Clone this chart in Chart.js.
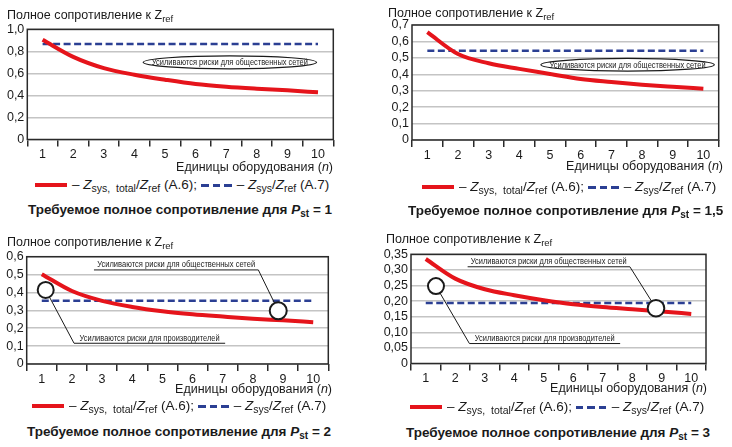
<!DOCTYPE html>
<html>
<head>
<meta charset="utf-8">
<script src="https://cdn.jsdelivr.net/npm/chart.js@4.4.1/dist/chart.umd.min.js"></script>
<style>
  body { margin: 0; background: #fff; }
  #wrap { position: relative; width: 732px; height: 447px; overflow: hidden; font-family: "Liberation Sans", Arial, sans-serif; color: #1a1a1a; }
  canvas { position: absolute; }
  .t { position: absolute; white-space: nowrap; font-size: 12.5px; line-height: 14px; }
  .t sub { font-size: 9.5px; vertical-align: -3px; line-height: 0; }
  .leg { font-size: 13.5px; }
  .leg sub { font-size: 10.5px; }
  .title { font-weight: bold; font-size: 13.5px; }
  .title sub { font-size: 10px; }
  .red { display: inline-block; width: 32px; height: 4px; background: #e5141b; vertical-align: middle; margin-right: 5px; }
  .blue { display: inline-block; width: 31px; height: 3px; vertical-align: middle; margin-right: 5px;
          background: repeating-linear-gradient(to right, #2b3f93 0 7.5px, transparent 7.5px 11.5px); }
</style>
</head>
<body>
<div id="wrap">
  <canvas id="c1" width="366" height="165" style="left:0;top:0"></canvas>
  <canvas id="c2" width="366" height="165" style="left:366px;top:0"></canvas>
  <canvas id="c3" width="366" height="165" style="left:0;top:224px"></canvas>
  <canvas id="c4" width="366" height="165" style="left:366px;top:224px"></canvas>

  <!-- y axis titles -->
  <div class="t" style="left:7px;top:8px">Полное сопротивление к Z<sub>ref</sub></div>
  <div class="t" style="left:388px;top:6px">Полное сопротивление к Z<sub>ref</sub></div>
  <div class="t" style="left:7px;top:235px">Полное сопротивление к Z<sub>ref</sub></div>
  <div class="t" style="left:386px;top:232px">Полное сопротивление к Z<sub>ref</sub></div>

  <!-- x axis titles -->
  <div class="t" style="right:399px;top:160px">Единицы оборудования (<i>n</i>)</div>
  <div class="t" style="right:9px;top:159px">Единицы оборудования (<i>n</i>)</div>
  <div class="t" style="right:400px;top:382px">Единицы оборудования (<i>n</i>)</div>
  <div class="t" style="right:25px;top:381px">Единицы оборудования (<i>n</i>)</div>

  <!-- legends -->
  <div class="t leg" style="left:35px;top:178px"><span class="red"></span>– <i>Z</i><sub>sys,&nbsp; total</sub>/<i>Z</i><sub>ref</sub> (A.6); <span class="blue"></span>– <i>Z</i><sub>sys</sub>/<i>Z</i><sub>ref</sub> (A.7)</div>
  <div class="t leg" style="left:422px;top:180px"><span class="red"></span>– <i>Z</i><sub>sys,&nbsp; total</sub>/<i>Z</i><sub>ref</sub> (A.6); <span class="blue"></span>– <i>Z</i><sub>sys</sub>/<i>Z</i><sub>ref</sub> (A.7)</div>
  <div class="t leg" style="left:32px;top:399px"><span class="red"></span>– <i>Z</i><sub>sys,&nbsp; total</sub>/<i>Z</i><sub>ref</sub> (A.6); <span class="blue"></span>– <i>Z</i><sub>sys</sub>/<i>Z</i><sub>ref</sub> (A.7)</div>
  <div class="t leg" style="left:410px;top:400px"><span class="red"></span>– <i>Z</i><sub>sys,&nbsp; total</sub>/<i>Z</i><sub>ref</sub> (A.6); <span class="blue"></span>– <i>Z</i><sub>sys</sub>/<i>Z</i><sub>ref</sub> (A.7)</div>

  <!-- panel titles -->
  <div class="t title" style="left:28px;top:203px">Требуемое полное сопротивление для <i>P</i><sub>st</sub> = 1</div>
  <div class="t title" style="left:408px;top:204px">Требуемое полное сопротивление для <i>P</i><sub>st</sub> = 1,5</div>
  <div class="t title" style="left:27px;top:425px">Требуемое полное сопротивление для <i>P</i><sub>st</sub> = 2</div>
  <div class="t title" style="left:406px;top:426px">Требуемое полное сопротивление для <i>P</i><sub>st</sub> = 3</div>
</div>

<script>
// categories (n)
const units = ['1', '2', '3', '4', '5', '6', '7', '8', '9', '10'];

// Pst = 1
const zTotal1 = [0.905, 0.75, 0.648, 0.588, 0.543, 0.504, 0.479, 0.461, 0.446, 0.428];
const zSys1 = [0.866, 0.866, 0.866, 0.866, 0.866, 0.866, 0.866, 0.866, 0.866, 0.866];
const yTicks1 = ['0', '0,2', '0,4', '0,6', '0,8', '1,0'];

// Pst = 1,5
const zTotal2 = [0.656, 0.523, 0.467, 0.433, 0.402, 0.371, 0.353, 0.337, 0.324, 0.312];
const zSys2 = [0.543, 0.543, 0.543, 0.543, 0.543, 0.543, 0.543, 0.543, 0.543, 0.543];
const yTicks2 = ['0', '0,1', '0,2', '0,3', '0,4', '0,5', '0,6', '0,7'];

// Pst = 2
const zTotal3 = [0.502, 0.408, 0.353, 0.319, 0.295, 0.278, 0.265, 0.253, 0.244, 0.234];
const zSys3 = [0.353, 0.353, 0.353, 0.353, 0.353, 0.353, 0.353, 0.353, 0.353, 0.353];
const yTicks3 = ['0', '0,1', '0,2', '0,3', '0,4', '0,5', '0,6'];

// Pst = 3
const zTotal4 = [0.335, 0.272, 0.238, 0.219, 0.203, 0.19, 0.181, 0.174, 0.167, 0.159];
const zSys4 = [0.194, 0.194, 0.194, 0.194, 0.194, 0.194, 0.194, 0.194, 0.194, 0.194];
const yTicks4 = ['0', '0,05', '0,10', '0,15', '0,20', '0,25', '0,30', '0,35'];

const publicRisk = 'Усиливаются риски для общественных сетей';
const makerRisk = 'Усиливаются риски для производителей';

// box = plot area in page px, cv = canvas left/top/width/height
const panels = [
  { id: 'c1', cv: [0, 0, 366, 165], box: [27.3, 29.3, 333.3, 139.5], max: 1.0, step: 0.2,
    total: zTotal1, sys: zSys1, ticks: yTicks1,
    notes: { ovals: [{ text: publicRisk, x: 6.12, y: 0.70, rx: 86.7, ry: 6.5, w: 156 }] } },
  { id: 'c2', cv: [366, 0, 366, 165], box: [412, 25, 718.7, 140], max: 0.7, step: 0.1,
    total: zTotal2, sys: zSys2, ticks: yTicks2,
    notes: { ovals: [{ text: publicRisk, x: 6.53, y: 0.458, rx: 86.7, ry: 6.3, w: 156 }] } },
  { id: 'c3', cv: [0, 224, 366, 165], box: [26.7, 256.7, 328.3, 364], max: 0.6, step: 0.1,
    total: zTotal3, sys: zSys3, ticks: yTicks3,
    notes: {
      rings: [{ x: 0.13, y: 0.414, r: 8 }, { x: 7.84, y: 0.298, r: 8.5 }],
      labels: [
        { text: publicRisk, x1: 1.73, x2: 7.18, y: 0.526, ring: 1, from: 'end', w: 158 },
        { text: makerRisk, x1: 1.07, x2: 6.08, y: 0.116, ring: 0, from: 'start', w: 140 }
      ] } },
  { id: 'c4', cv: [366, 224, 366, 165], box: [411, 254.3, 706, 363.5], max: 0.35, step: 0.05,
    total: zTotal4, sys: zSys4, ticks: yTicks4,
    notes: {
      rings: [{ x: 0.347, y: 0.248, r: 8 }, { x: 7.805, y: 0.177, r: 8.3 }],
      labels: [
        { text: publicRisk, x1: 1.42, x2: 6.92, y: 0.310, ring: 1, from: 'end', w: 156 },
        { text: makerRisk, x1: 1.48, x2: 6.59, y: 0.064, ring: 0, from: 'start', w: 140 }
      ] } }
];

const FONT = '"Liberation Sans", Arial, sans-serif';

// full rectangle round the plot
const frame = {
  id: 'frame',
  beforeDatasetsDraw(chart) {
    const { ctx, chartArea: a } = chart;
    ctx.save();
    ctx.strokeStyle = '#2a2a2a';
    ctx.lineWidth = 1.5;
    ctx.strokeRect(a.left, a.top, a.right - a.left, a.bottom - a.top);
    ctx.restore();
  }
};

// small narrow text squeezed to the width seen in the picture
function narrowText(ctx, text, x, y, w) {
  const m = ctx.measureText(text).width;
  const k = Math.min(1, w / m);
  ctx.save();
  ctx.translate(x, y);
  ctx.scale(k, 1);
  ctx.fillText(text, 0, 0);
  ctx.restore();
}

// ellipses, circles and leader lines
const notes = {
  id: 'notes',
  afterDatasetsDraw(chart, args, opts) {
    const { ctx, scales: { x, y } } = chart;
    const px = v => x.getPixelForValue(v);
    const py = v => y.getPixelForValue(v);
    ctx.save();
    ctx.font = '8.5px ' + FONT;
    ctx.strokeStyle = '#1a1a1a';
    ctx.textAlign = 'center';

    (opts.ovals || []).forEach(o => {
      ctx.beginPath();
      ctx.ellipse(px(o.x), py(o.y), o.rx, o.ry, 0, 0, Math.PI * 2);
      ctx.fillStyle = '#fff';
      ctx.fill();
      ctx.lineWidth = 1.2;
      ctx.stroke();
      ctx.fillStyle = '#222';
      ctx.textBaseline = 'middle';
      narrowText(ctx, o.text, px(o.x), py(o.y) + 0.5, o.w);
    });

    const rings = (opts.rings || []).map(r => ({ cx: px(r.x), cy: py(r.y), r: r.r }));
    (opts.labels || []).forEach(l => {
      const x1 = px(l.x1), x2 = px(l.x2), yy = py(l.y);
      const ring = rings[l.ring];
      const sx = l.from === 'end' ? x2 : x1;
      ctx.beginPath();
      ctx.moveTo(x1, yy);
      ctx.lineTo(x2, yy);
      ctx.moveTo(sx, yy);
      ctx.lineTo(ring.cx, ring.cy);
      ctx.lineWidth = 1;
      ctx.stroke();
      ctx.fillStyle = '#222';
      ctx.textBaseline = 'alphabetic';
      narrowText(ctx, l.text, (x1 + x2) / 2, yy - 2.5, l.w);
    });

    rings.forEach(r => {
      ctx.beginPath();
      ctx.arc(r.cx, r.cy, r.r, 0, Math.PI * 2);
      ctx.fillStyle = '#fff';
      ctx.fill();
      ctx.lineWidth = 2;
      ctx.stroke();
    });
    ctx.restore();
  }
};

const X_H = 25;

for (const p of panels) {
  const [cx, cy, cw, ch] = p.cv;
  const [l, t, r, b] = p.box;
  const yWidth = l - cx;
  const pad = { left: 0, top: t - cy, right: cx + cw - r, bottom: Math.max(0, ch - (b - cy) - X_H) };

  new Chart(document.getElementById(p.id), {
    type: 'line',
    data: {
      labels: units,
      datasets: [
        {
          label: 'Zsys, total/Zref (A.6)',
          data: p.total,
          borderColor: '#e5141b',
          borderWidth: 4,
          pointRadius: 0,
          cubicInterpolationMode: 'monotone',
          fill: false
        },
        {
          label: 'Zsys/Zref (A.7)',
          data: p.sys,
          borderColor: '#2b3f93',
          borderWidth: 2.5,
          borderDash: [7, 3.5],
          pointRadius: 0,
          fill: false
        }
      ]
    },
    options: {
      responsive: false,
      animation: false,
      devicePixelRatio: 1,
      layout: { padding: pad },
      plugins: {
        legend: { display: false },
        tooltip: { enabled: false },
        notes: p.notes
      },
      scales: {
        x: {
          type: 'category',
          offset: true,
          afterFit: s => { s.height = X_H; },
          border: { display: false },
          grid: { offset: true, drawOnChartArea: false, drawTicks: true, tickLength: 7, color: '#2a2a2a', lineWidth: 1.5 },
          ticks: { color: '#1a1a1a', padding: 1, maxRotation: 0, autoSkip: false, font: { family: FONT, size: 12.5 } }
        },
        y: {
          min: 0,
          max: p.max,
          afterFit: s => { s.width = yWidth; },
          border: { display: false },
          grid: { drawTicks: false, color: '#c4c4c4', lineWidth: 1.5 },
          ticks: {
            stepSize: p.step,
            autoSkip: false,
            padding: 3,
            color: '#1a1a1a',
            font: { family: FONT, size: 12.5 },
            callback: (v, i) => p.ticks[i]
          }
        }
      }
    },
    plugins: [frame, notes]
  });
}
</script>
</body>
</html>
